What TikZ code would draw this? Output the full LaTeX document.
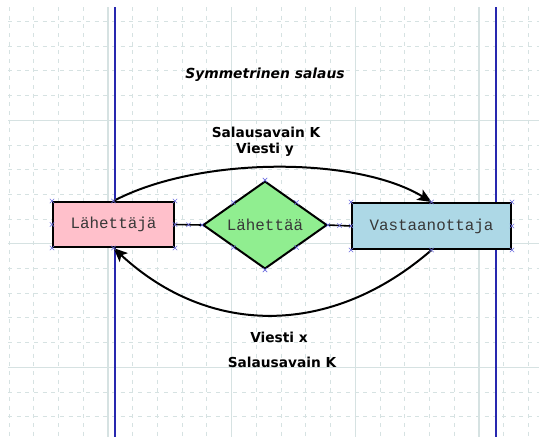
\documentclass[tikz,border=0pt]{standalone}
\usepackage{fontspec}
\setmainfont{DejaVu Sans}
\newfontfamily\boxfont{Liberation Mono}
\usetikzlibrary{shapes.geometric,arrows.meta,calc}
\definecolor{gridc}{RGB}{214,226,226}
\definecolor{pagec}{RGB}{40,40,175}
\definecolor{cpc}{RGB}{110,110,225}
\definecolor{pinkc}{RGB}{255,192,203}
\definecolor{greenc}{RGB}{144,238,144}
\definecolor{bluec}{RGB}{173,216,230}
\tikzset{
  minorgrid/.style={draw=gridc, line width=0.75pt, dash pattern=on 3pt off 3.5pt},
  majorgrid/.style={draw=gridc, line width=0.9pt},
  pageline/.style={draw=pagec, line width=1.1pt},
  boxnode/.style={draw=black, line width=1.5pt, rectangle, inner sep=0pt,
    font=\boxfont\fontsize{11.9}{13}\selectfont, text=black!78},
  dianode/.style={draw=black, line width=1.5pt, diamond, inner sep=0pt, fill=greenc,
    font=\boxfont\fontsize{11.9}{13}\selectfont, text=black!78},
  link/.style={draw=black, line width=1.2pt},
  arc/.style={draw=black, line width=1.5pt, -{Stealth[length=10.5pt,width=9pt,inset=2.5pt]}},
  lbl/.style={font=\bfseries\fontsize{10.3}{12}\selectfont, inner sep=0pt},
  ttl/.style={font=\bfseries\itshape\fontsize{10.4}{12}\selectfont, inner sep=0pt},
  cpmark/.style={draw=cpc, line width=0.45pt},
  cpt/.pic={\draw[cpmark] (-2.2,-2.2) -- (2.2,2.2) (-2.2,2.2) -- (2.2,-2.2);}
}
\begin{document}
\begin{tikzpicture}[x=0.75pt, y=-0.75pt]
\useasboundingbox (0,0) rectangle (539,437);
\fill[white] (0,0) rectangle (539,437);
% grid
\foreach \i in {0,...,21} \draw[minorgrid] ({9+24.74*\i},7) -- ({9+24.74*\i},437);
\foreach \j in {0,...,16} \draw[minorgrid] (8,{21.5+24.7*\j}) -- (539,{21.5+24.7*\j});
\foreach \i in {4,9,14,19} \draw[majorgrid] ({9+24.74*\i},7) -- ({9+24.74*\i},437);
\foreach \j in {4,9,14} \draw[majorgrid] (8,{21.5+24.7*\j}) -- (539,{21.5+24.7*\j});
% page lines
\draw[pageline] (115,7) -- (115,437);
\draw[pageline] (496,7) -- (496,437);
% nodes
\node[boxnode, fill=pinkc, minimum width=90.75pt, minimum height=33.75pt] (snd) at (113.5,224.5) {Lähettäjä};
\node[dianode, minimum width=93pt, minimum height=57pt] (dia) at (265,225) {Lähettää};
\node[boxnode, fill=bluec, minimum width=119.25pt, minimum height=34.5pt] (rcv) at (431.5,226) {Vastaanottaja};
% connectors
\draw[link] (snd.east) -- (dia.west);
\draw[link] (dia.east) -- (rcv.west);
\draw[arc] (snd.north) .. controls +(85,-45) and +(-75,-46) .. (rcv.north);
\draw[arc] (rcv.south) .. controls +(-100,87) and +(96,89) .. (snd.south);
% labels
\node[ttl] (title) at (265,75) {Symmetrinen salaus};
\node[lbl] (k1) at (266,132) {Salausavain K};
\node[lbl] (y1) at (265,150) {Viesti y};
\node[lbl] (x2) at (279,337) {Viesti x};
\node[lbl] (k2) at (282,362) {Salausavain K};
% connection point markers
\foreach \n in {snd,rcv} {
  \foreach \a in {north west,north,north east,west,east,south west,south,south east}
    \path (\n.\a) pic{cpt};
}
\foreach \a in {north,south,east,west,north east,north west,south east,south west}
  \path (dia.\a) pic{cpt};
\path ($(snd.east)!0.5!(dia.west)$) pic{cpt};
\path ($(dia.east)!0.5!(rcv.west)$) pic{cpt};
\end{tikzpicture}
\end{document}
